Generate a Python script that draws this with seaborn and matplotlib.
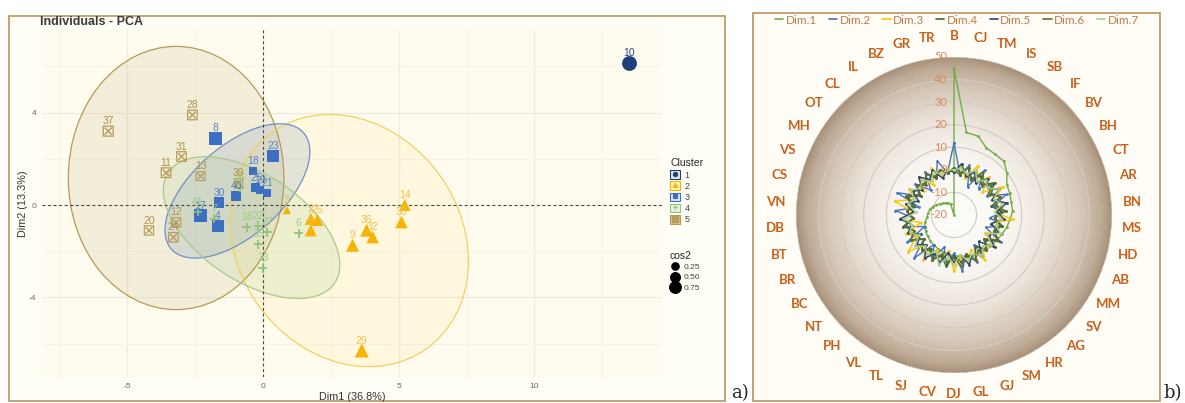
import numpy as np
import pandas as pd
import matplotlib
matplotlib.use("Agg")
import matplotlib.pyplot as plt
import seaborn as sns
from matplotlib.patches import Ellipse, Rectangle
from matplotlib.lines import Line2D
from matplotlib.colors import LinearSegmentedColormap
from matplotlib.transforms import ScaledTranslation

# ---------------- data: PCA individuals ----------------
ind_labels = ["10",
              "14", "38", "36", "32", "9", "2", "26", "5", "29", "3",
              "8", "23", "18", "25", "19", "21", "40", "30", "17", "4",
              "41", "7", "36", "16", "22", "27", "6", "35", "33",
              "28", "37", "31", "11", "13", "39", "20", "12", "24"]
ind_cluster = [1,
               2, 2, 2, 2, 2, 2, 2, 2, 2, 2,
               3, 3, 3, 3, 3, 3, 3, 3, 3, 3,
               4, 4, 4, 4, 4, 4, 4, 4, 4,
               5, 5, 5, 5, 5, 5, 5, 5, 5]
dim1 = [13.5,
        5.22, 5.1, 3.82, 4.04, 3.3, 1.76, 2.0, 1.76, 3.64, 0.88,
        -1.76, 0.37, -0.37, -0.26, -0.1, 0.15, -0.99, -1.62, -2.31, -1.66,
        -2.4, -1.8, -0.85, -0.59, -0.18, 0.15, 1.32, -0.18, 0.0,
        -2.6, -5.7, -3.0, -3.57, -2.3, -0.9, -4.2, -3.2, -3.3]
dim2 = [6.17,
        0.0, -0.74, -1.09, -1.39, -1.74, -0.6, -0.65, -1.1, -6.3, -0.22,
        2.9, 2.13, 1.48, 0.74, 0.65, 0.52, 0.4, 0.1, -0.45, -0.9,
        -0.3, -0.6, 0.75, -0.96, -0.9, -1.17, -1.22, -1.7, -2.74,
        3.9, 3.2, 2.1, 1.4, 1.25, 0.95, -1.1, -0.75, -1.4]
cos2 = [0.80,
        0.50, 0.55, 0.60, 0.55, 0.60, 0.50, 0.50, 0.50, 0.70, 0.20,
        0.60, 0.45, 0.20, 0.25, 0.20, 0.15, 0.30, 0.40, 0.60, 0.45,
        0.10, 0.10, 0.10, 0.10, 0.10, 0.10, 0.10, 0.10, 0.10,
        0.45, 0.50, 0.45, 0.45, 0.35, 0.30, 0.40, 0.40, 0.45]

clusters = [1, 2, 3, 4, 5]
cluster_colors = ["#1f3f7a", "#f5b400", "#3c6fc2", "#8cc27a", "#b59a55"]
cluster_label_colors = ["#2c4a86", "#f2c24a", "#5b82c8", "#9acc88", "#b09252"]
cluster_markers = ["o", "^", "s", "+", r"$\boxtimes$"]

# confidence ellipses (center x, center y, width, height, angle) per cluster
ell_cluster = [5, 2, 3, 4]
ell_cx = [-3.2, 3.18, -0.94, -0.42]
ell_cy = [1.17, -1.54, 0.61, -0.98]
ell_w = [7.94, 11.16, 7.04, 7.82]
ell_h = [11.4, 8.48, 3.58, 4.34]
ell_ang = [0.0, -71.7, 49.2, -41.9]
ell_edge = ["#b59a55", "#f3d060", "#7090c8", "#a9c98f"]
ell_fill = ["#b8a66a", "#ffe07a", "#8199c0", "#a8cc94"]
ell_alpha = [0.16, 0.14, 0.22, 0.2]

cos2_legend = [0.25, 0.50, 0.75]

# ---------------- data: radar ----------------
categories = ["B", "CJ", "TM", "IS", "SB", "IF", "BV", "BH", "CT", "AR", "BN", "MS",
              "HD", "AB", "MM", "SV", "AG", "HR", "SM", "GJ", "GL", "DJ", "CV", "SJ",
              "TL", "VL", "PH", "NT", "BC", "BR", "BT", "DB", "VN", "CS", "VS", "MH",
              "OT", "CL", "IL", "BZ", "GR", "TR"]
dim_names = ["Dim.1", "Dim.2", "Dim.3", "Dim.4", "Dim.5", "Dim.6", "Dim.7"]
dim_colors = ["#70AD47", "#4472C4", "#FFC000", "#43682B", "#264478", "#636E2A", "#A9D18E"]
r_dim1 = [45, 17, 16.5, 13, 12.5, 12.5, 10, 7, 6.5, 6, 6, 5, 4, 3, 2, 1.5, 1, 0, -0.5, -1,
          -1.5, -2, -2.5, -3, -3.5, -4, -4.5, -5, -5.5, -6, -7, -8, -8.5, -9, -10, -11,
          -12, -13, -13.5, -14, -15, -20]
r_dim2 = [12, -2, 3, -6, 4, -4, 2, -3, 5, -2, 3, -4, 2, -5, 4, -3, 1, -4, 3, -2, 5, -3,
          2, -5, 1, -4, 6, -3, 4, -6, 3, -2, 6, -4, 7, -3, 2, -5, 3, -2, 5, -1]
r_dim3 = [-1, 2, -3, 4, -2, 3, -4, 5, -1, 3, -2, 6, -3, 2, -4, 3, -1, 4, -3, 2, -1, 5,
          -4, 2, -3, 4, -2, 6, -1, 3, -5, 4, -2, 7, -1, 3, -3, 2, -4, 3, -2, 1]
r_dim4 = [0, -2, 2, -3, 1, -2, 3, -1, 2, -3, 1, -2, 2, -1, 3, -2, 1, -3, 2, -1, 1, -2,
          3, -1, 2, -2, 1, -3, 2, -1, 3, -2, 1, -2, 2, -3, 1, -1, 2, -2, 1, -1]
r_dim5 = [-1, 3, -2, 1, -3, 2, -1, 3, -2, 4, -1, 2, -3, 1, -2, 3, -4, 2, -1, 3, -2, 1,
          -3, 2, -1, 3, -2, 1, -3, 2, -1, 4, -2, 2, -3, 1, -2, 3, -1, 2, -3, 0]
r_dim6 = [1, -1, 2, -2, 3, -1, 1, -2, 2, -1, 3, -2, 1, -1, 2, -3, 1, -1, 2, -2, 3, -1,
          1, -2, 2, -1, 1, -3, 2, -1, 2, -2, 1, -1, 3, -2, 1, -2, 2, -1, 1, -1]
r_dim7 = [0, 1, -1, 2, -2, 1, -1, 3, -1, 2, -2, 1, -1, 2, -3, 1, -1, 2, -1, 1, -2, 2,
          -1, 3, -2, 1, -1, 2, -2, 1, -1, 2, -3, 1, -1, 2, -1, 1, -2, 1, -1, 0]
radar_series = [r_dim1, r_dim2, r_dim3, r_dim4, r_dim5, r_dim6, r_dim7]
r_ticks = [-20, -10, 0, 10, 20, 30, 40, 50]

# ---------------- figure ----------------
sns.set_theme(style="white")
plt.rcParams["font.family"] = ["Liberation Sans", "DejaVu Sans"]
plt.rcParams["axes.unicode_minus"] = False
W, H = 1185, 403
fig = plt.figure(figsize=(W / 100, H / 100), dpi=100)
fig.patch.set_facecolor("white")

def fx(px):
    return px / W

def fy(py):
    return 1 - py / H

fig.patches.append(Rectangle((fx(9), fy(401)), fx(725) - fx(9), fy(16) - fy(401),
                             transform=fig.transFigure, facecolor="#fffef6",
                             edgecolor="#c49a6c", lw=1.3, zorder=-5))
fig.patches.append(Rectangle((fx(753), fy(401)), fx(1160) - fx(753), fy(13) - fy(401),
                             transform=fig.transFigure, facecolor="#fffdf6",
                             edgecolor="#c49a6c", lw=1.3, zorder=-5))

# ---------------- left: PCA ----------------
ax = fig.add_axes([fx(42), fy(377), fx(662) - fx(42), fy(30) - fy(377)])
ax.set_facecolor("#fffcef")
df = pd.DataFrame({"label": ind_labels, "cluster": ind_cluster,
                   "Dim1": dim1, "Dim2": dim2, "cos2": cos2})

for i, c in enumerate(ell_cluster):
    ax.add_patch(Ellipse((ell_cx[i], ell_cy[i]), ell_w[i], ell_h[i], angle=ell_ang[i],
                         facecolor=ell_fill[i], alpha=ell_alpha[i], edgecolor="none",
                         zorder=1))
    ax.add_patch(Ellipse((ell_cx[i], ell_cy[i]), ell_w[i], ell_h[i], angle=ell_ang[i],
                         facecolor="none", edgecolor=ell_edge[i], lw=0.9, zorder=1.2))

for k, c in enumerate(clusters):
    sub = df[df["cluster"] == c]
    lw = 1.2 if cluster_markers[k] == "+" else 0
    if k == 4:
        sizes = (20, 110)
    elif k == 3:
        sizes = (30, 150)
    else:
        sizes = (10, 140)
    sns.scatterplot(data=sub, x="Dim1", y="Dim2", size="cos2", sizes=sizes,
                    size_norm=(0, 1), marker=cluster_markers[k],
                    color=cluster_colors[k], linewidth=lw, legend=False, ax=ax,
                    zorder=3)
    for _, row in sub.iterrows():
        ax.annotate(row["label"], (row["Dim1"], row["Dim2"]), xytext=(0, 3.5),
                    textcoords="offset points", ha="center", va="bottom",
                    fontsize=7.5, color=cluster_label_colors[k], zorder=4)

ax.axhline(0, color="#444444", lw=0.8, ls=(0, (2.5, 2.5)), zorder=2)
ax.axvline(0, color="#444444", lw=0.8, ls=(0, (2.5, 2.5)), zorder=2)
ax.set_xlim(-8.14, 14.70)
ax.set_ylim(-7.45, 7.58)
ax.set_xticks([-5, 0, 5, 10])
ax.set_yticks([-4, 0, 4])
ax.set_xticks([-7.5, -2.5, 2.5, 7.5, 12.5], minor=True)
ax.set_yticks([-6, -2, 2, 6], minor=True)
ax.grid(True, which="major", color="#efebdc", lw=0.9)
ax.grid(True, which="minor", color="#f5f2e6", lw=0.6)
ax.set_axisbelow(True)
for s in ax.spines.values():
    s.set_visible(False)
ax.tick_params(axis="both", which="major", labelsize=6, colors="#666666",
               length=2, width=0.6, pad=2)
ax.tick_params(which="minor", length=0)
ax.set_xlabel("Dim1 (36.8%)", fontsize=7.8, color="#333333", labelpad=2)
ax.set_ylabel("Dim2 (13.3%)", fontsize=7.8, color="#333333", labelpad=1)
fig.text(fx(40), fy(22), "Individuals - PCA", fontsize=9, weight="bold",
         color="#3a3a3a", va="center")

light_fill = ["#dfe3ee", "#fff1b8", "#dbe5f7", "#e6f2df", "#efe4c4"]
handles = []
for k in range(5):
    box = Rectangle((0, 0), 1, 1, facecolor=light_fill[k], edgecolor=cluster_colors[k], lw=0.8)
    mk = Line2D([], [], ls="none", marker="o" if k == 0 else cluster_markers[k],
                color=cluster_colors[k], ms=3 if k != 4 else 5, mew=0.8)
    handles.append((box, mk))
leg1 = fig.legend(handles, [str(c) for c in clusters], title="Cluster",
                  loc="upper left", bbox_to_anchor=(fx(664), fy(152)), frameon=False,
                  fontsize=6.5, title_fontsize=7.5, handlelength=1.1, handleheight=1.1,
                  labelspacing=0.2, handletextpad=0.5, borderpad=0.2)
leg1._legend_box.align = "left"
size_handles = [Line2D([], [], ls="none", marker="o", color="black",
                       ms=np.sqrt(10 + 130 * v) * 0.8) for v in cos2_legend]
leg2 = fig.legend(size_handles, [f"{v:.2f}" for v in cos2_legend], title="cos2",
                  loc="upper left", bbox_to_anchor=(fx(664), fy(245)), frameon=False,
                  fontsize=6, title_fontsize=7.5, handlelength=1.2,
                  labelspacing=0.3, handletextpad=0.4, borderpad=0.2)
leg2._legend_box.align = "left"
for t in leg1.get_texts() + leg2.get_texts():
    t.set_color("#444444")

fig.text(fx(731), fy(393), "a)", fontsize=13, family="DejaVu Serif", va="center")
fig.text(fx(1163), fy(393), "b)", fontsize=13, family="DejaVu Serif", va="center")

# ---------------- right: radar ----------------
cx, cy, R = 954, 215, 158
pax = fig.add_axes([fx(cx - R), fy(cy + R), 2 * R / W, 2 * R / H], projection="polar")
pax.set_theta_zero_location("N")
pax.set_theta_direction(-1)
pax.set_facecolor("none")
n = len(categories)
angles = np.arange(n) * 2 * np.pi / n

cmap = LinearSegmentedColormap.from_list(
    "bg", [(0, "#fdfcfa"), (0.35, "#f9f6f2"), (0.6, "#ebe3da"),
           (0.8, "#d6c8b9"), (0.93, "#bfab96"), (1.0, "#a8917b")])
tg = np.linspace(0, 2 * np.pi, 361)
rg = np.linspace(-20, 50, 141)
T, Rr = np.meshgrid(tg, rg)
C = ((Rr[:-1, :-1] + Rr[1:, 1:]) / 2 + 20) / 70
pax.pcolormesh(T, Rr, C, cmap=cmap, vmin=0, vmax=1, shading="flat",
               edgecolors="none", linewidth=0, antialiased=False, zorder=0.1)

rows = []
for name, vals in zip(dim_names, radar_series):
    for a, v in zip(list(angles) + [2 * np.pi], list(vals) + [vals[0]]):
        rows.append({"theta": a, "value": v, "dim": name})
rdf = pd.DataFrame(rows)
sns.lineplot(data=rdf, x="theta", y="value", hue="dim", hue_order=dim_names,
             palette=dim_colors, sort=False, estimator=None, lw=1.0, marker="o",
             markersize=2, markeredgewidth=0, legend=False, ax=pax, zorder=2)
pax.set_xlabel("")
pax.set_ylabel("")
pax.set_ylim(-20, 50)
pax.set_yticks(r_ticks)
pax.set_yticklabels([])
pax.set_xticks(angles)
pax.set_xticklabels(categories, fontsize=9.5, weight="bold", color="#c9601a",
                    family=["Lato", "DejaVu Sans"])
pax.tick_params(axis="x", pad=2)
pax.xaxis.grid(False)
pax.yaxis.grid(True, color="#d3ccc4", lw=0.8)
pax.set_axisbelow(True)
pax.spines["polar"].set_visible(False)
off = ScaledTranslation(-5 / 72, 0, fig.dpi_scale_trans)
for v in r_ticks:
    pax.text(0, v, str(v), transform=pax.transData + off, ha="right", va="center",
             fontsize=8, color="#d98b5c", family=["Lato", "DejaVu Sans"], zorder=3)

leg_handles = [Line2D([], [], color=c, lw=1.2) for c in dim_colors]
fig.legend(leg_handles, dim_names, loc="center", bbox_to_anchor=(fx(957), fy(20)),
           ncol=7, frameon=False, handlelength=0.7, handletextpad=0.2,
           columnspacing=1.0, labelcolor="#c07a45",
           prop={"family": ["Lato", "DejaVu Sans"], "size": 8.5})

fig.savefig("out.png", dpi=100)
